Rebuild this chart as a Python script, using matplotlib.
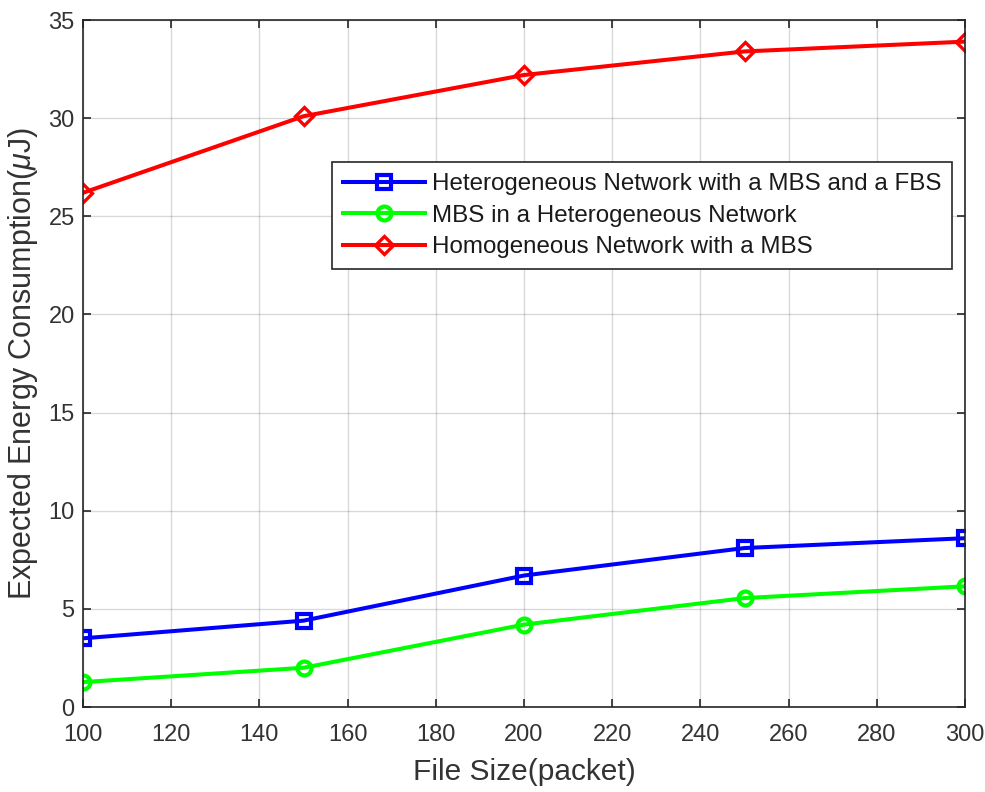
import matplotlib
matplotlib.use("Agg")
import matplotlib.pyplot as plt

# file size (packets) and expected energy consumption (uJ) per scheme
file_size = [100, 150, 200, 250, 300]
het_mbs_fbs = [3.5, 4.4, 6.7, 8.1, 8.6]
mbs_in_het = [1.27, 2.0, 4.2, 5.55, 6.15]
homogeneous = [26.2, 30.1, 32.2, 33.4, 33.9]

labels = [
    "Heterogeneous Network with a MBS and a FBS",
    "MBS in a Heterogeneous Network",
    "Homogeneous Network with a MBS",
]

plt.rcParams["font.family"] = ["Liberation Sans", "DejaVu Sans"]
plt.rcParams["mathtext.fontset"] = "custom"
plt.rcParams["mathtext.it"] = "Liberation Sans:italic"
plt.rcParams["mathtext.rm"] = "Liberation Sans"

axis_col = "#262626"
text_col = "#333333"

fig = plt.figure(figsize=(9.85, 7.92), dpi=100)
ax = fig.add_axes([0.0843, 0.1073, 0.8954, 0.8674])

lw, ms, mew = 2.9, 10, 3
ax.plot(file_size, het_mbs_fbs, "-s", color="#0000ff", lw=lw, ms=ms,
        mfc="none", mew=mew, label=labels[0])
ax.plot(file_size, mbs_in_het, "-o", color="#00ff00", lw=lw, ms=ms,
        mfc="none", mew=mew, label=labels[1])
ax.plot(file_size, homogeneous, "-D", color="#ff0000", lw=lw, ms=ms - 1,
        mfc="none", mew=mew - 0.6, label=labels[2])

ax.set_xlim(100, 300)
ax.set_ylim(0, 35)
ax.set_xticks(range(100, 301, 20))
ax.set_yticks(range(0, 36, 5))
ax.grid(True, color="#000000", alpha=0.15, lw=1)

for s in ax.spines.values():
    s.set_color(axis_col)
    s.set_linewidth(1.2)
ax.tick_params(direction="in", length=6, width=1.2, colors=axis_col,
               labelcolor=text_col, labelsize=17, top=True, right=True)
ax.tick_params(axis="x", pad=12)
ax.tick_params(axis="y", pad=6)

ax.set_xlabel("File Size(packet)", fontsize=21.5, color=text_col, labelpad=9)
ax.set_ylabel(r"Expected Energy Consumption($\mu$J)", fontsize=22,
              color=text_col, labelpad=6)

leg = ax.legend(loc="upper left", bbox_to_anchor=(0.282, 0.793), fontsize=17.4,
                fancybox=False, framealpha=1, edgecolor=axis_col,
                handlelength=3.4, borderpad=0.45, labelspacing=0.4,
                handletextpad=0.3, borderaxespad=0)
leg.get_frame().set_linewidth(1.2)
for t in leg.get_texts():
    t.set_color("#1a1a1a")

fig.savefig("out.png", dpi=100)
